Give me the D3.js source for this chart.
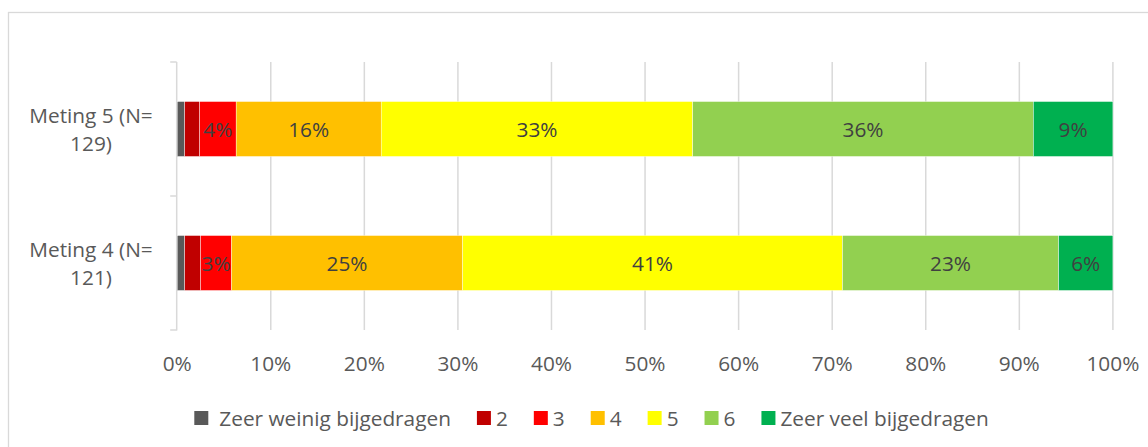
<!DOCTYPE html>
<html><head><meta charset="utf-8">
<script src="https://cdn.jsdelivr.net/npm/d3@7"></script>
<style>
html,body{margin:0;padding:0;background:#fff;overflow:hidden;}
svg{display:block;}
text{font-family:"Open Sans",sans-serif;}
</style></head>
<body>
<script>
const categories = ["Meting 5 (N=\n129)", "Meting 4 (N=\n121)"];
const seriesNames = ["Zeer weinig bijgedragen", "2", "3", "4", "5", "6", "Zeer veel bijgedragen"];
const seriesColors = ["#595959", "#C00000", "#FF0000", "#FFC000", "#FFFF00", "#92D050", "#00B050"];
const meting5 = [0.8, 1.6, 3.9, 15.5, 33.3, 36.4, 8.5];
const meting4 = [0.8, 1.7, 3.3, 24.7, 40.6, 23.1, 5.8];
const values = [meting5, meting4];
const xTicks = [0, 10, 20, 30, 40, 50, 60, 70, 80, 90, 100];

const W = 1148, H = 447;
const FS = 20.8;
const svg = d3.select("body").append("svg").attr("width", W).attr("height", H);

// chart frame
svg.append("rect").attr("x", 8.5).attr("y", 12.5).attr("width", 1300).attr("height", 600)
  .attr("fill", "#fff").attr("stroke", "#d9d9d9").attr("stroke-width", 1.3);

const plot = {left: 177.2, right: 1112.9, top: 62, bottom: 330};
const x = d3.scaleLinear().domain([0, 100]).range([plot.left, plot.right]);
const y = d3.scaleBand().domain(categories).range([plot.top, plot.bottom])
  .paddingInner(0.59).paddingOuter(0.295);
const yOuter = d3.scaleBand().domain(categories).range([plot.top, plot.bottom]);

// gridlines
svg.append("g").selectAll("line").data(xTicks.slice(1)).join("line")
  .attr("x1", d => x(d)).attr("x2", d => x(d))
  .attr("y1", plot.top).attr("y2", plot.bottom)
  .attr("stroke", "#d9d9d9").attr("stroke-width", 1.5);

// category axis
svg.append("line").attr("x1", x(0) - 0.5).attr("x2", x(0) - 0.5)
  .attr("y1", plot.top).attr("y2", plot.bottom + 0.5)
  .attr("stroke", "#d9d9d9").attr("stroke-width", 1.5);
const tickYs = categories.map(c => yOuter(c)).concat([plot.bottom]);
svg.append("g").selectAll("line").data(tickYs).join("line")
  .attr("x1", x(0) - 7).attr("x2", x(0) - 0.5)
  .attr("y1", d => d).attr("y2", d => d)
  .attr("stroke", "#d9d9d9").attr("stroke-width", 1.5);

// bars
const stacked = values.map((vals, i) => {
  let cum = 0;
  return vals.map((v, j) => { const s = {cat: categories[i], j, v, x0: cum, x1: cum + v}; cum += v; return s; });
});
const segs = stacked.flat();
svg.append("g").selectAll("rect").data(segs).join("rect")
  .attr("x", d => x(d.x0)).attr("width", d => x(d.x1) - x(d.x0))
  .attr("y", d => y(d.cat)).attr("height", y.bandwidth())
  .attr("fill", d => seriesColors[d.j])
  .attr("stroke", "#fff").attr("stroke-width", 0.4);

// data labels
svg.append("g").selectAll("text").data(segs.filter(d => d.v >= 3)).join("text")
  .attr("x", d => (x(d.x0) + x(d.x1)) / 2)
  .attr("y", d => y(d.cat) + y.bandwidth() / 2)
  .attr("text-anchor", "middle").attr("dominant-baseline", "central")
  .attr("fill", "#404040").attr("font-size", FS)
  .text(d => Math.round(d.v) + "%");

// category labels
const catG = svg.append("g").selectAll("text").data(categories).join("text")
  .attr("text-anchor", "middle").attr("fill", "#595959").attr("font-size", FS)
  .attr("transform", d => `translate(91,${y(d) + y.bandwidth() / 2})`);
catG.selectAll("tspan").data(d => d.split("\n").map((t, i, a) => ({t, i, n: a.length}))).join("tspan")
  .attr("x", 0).attr("y", d => (d.i - (d.n - 1) / 2) * 28)
  .attr("dominant-baseline", "central")
  .text(d => d.t);

// x tick labels
svg.append("g").selectAll("text").data(xTicks).join("text")
  .attr("x", d => x(d)).attr("y", 363)
  .attr("text-anchor", "middle").attr("dominant-baseline", "central")
  .attr("fill", "#595959").attr("font-size", FS)
  .text(d => d + "%");

// legend
const leg = svg.append("g");
let lx = 194.3;
seriesNames.forEach((name, i) => {
  leg.append("rect").attr("x", lx).attr("y", 411).attr("width", 14).attr("height", 14)
    .attr("fill", seriesColors[i]);
  const tx = lx + (i === 0 ? 25 : 19);
  const t = leg.append("text").attr("x", tx).attr("y", 418)
    .attr("dominant-baseline", "central").attr("fill", "#595959").attr("font-size", FS)
    .text(name);
  lx = tx + t.node().getComputedTextLength() + 26;
});
</script>
</body></html>
